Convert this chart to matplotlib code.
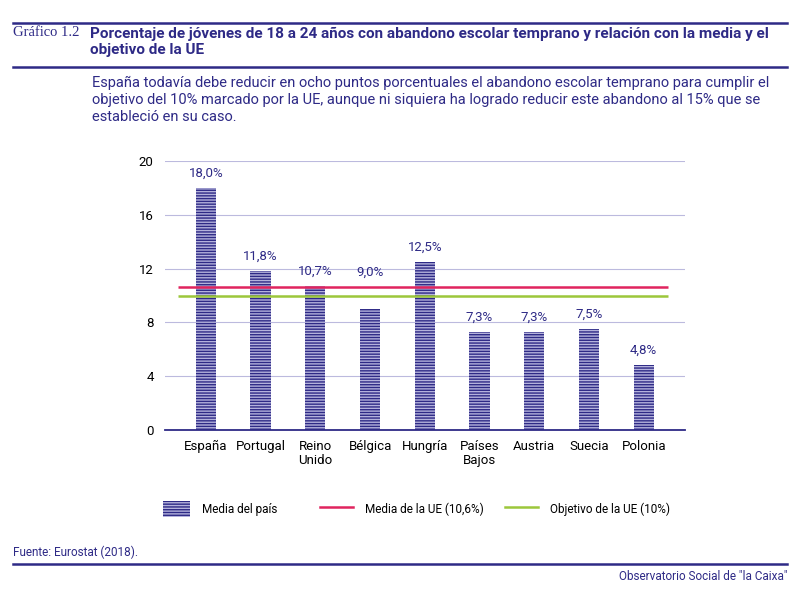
import matplotlib.pyplot as plt
from matplotlib.patches import Patch
from matplotlib.lines import Line2D

paises = ["España", "Portugal", "Reino\nUnido", "Bélgica", "Hungría",
          "Países\nBajos", "Austria", "Suecia", "Polonia"]
abandono = [18.0, 11.8, 10.7, 9.0, 12.5, 7.3, 7.3, 7.5, 4.8]
media_ue = 10.6
objetivo_ue = 10.0
yticks = [0, 4, 8, 12, 16, 20]

navy = "#2e2a86"
lavanda = "#b4b2dc"
rojo = "#e0245e"
verde = "#9cc73b"

plt.rcParams["font.family"] = ["Roboto", "DejaVu Sans"]
plt.rcParams["hatch.linewidth"] = 1.0

fig = plt.figure(figsize=(8, 5.91), dpi=100)
ax = fig.add_axes([0.206, 0.2724, 0.65, 0.4552])

x = list(range(len(paises)))
ax.bar(x, abandono, width=0.37, facecolor=lavanda, edgecolor=navy,
       linewidth=0, hatch="------", zorder=3)
for xi, v in zip(x, abandono):
    # si la etiqueta chocaría con las líneas de la UE, se sube por encima
    base = media_ue if objetivo_ue - 1.5 < v < media_ue else v
    ax.annotate(f"{v:.1f}%".replace(".", ","), (xi, base), xytext=(0, 6),
                textcoords="offset points", ha="center", va="bottom",
                color=navy, fontsize=9.5)

ax.hlines(media_ue, -0.5, 8.45, color=rojo, lw=1.8, zorder=4)
ax.hlines(objetivo_ue, -0.5, 8.45, color=verde, lw=1.8, zorder=4)

ax.set_xlim(-0.75, 8.75)
ax.set_ylim(0, 20)
ax.set_yticks(yticks)
ax.set_xticks(x)
ax.set_xticklabels(paises, fontsize=9.5, linespacing=1.1)
ax.tick_params(axis="y", length=0, labelsize=9.5, pad=8)
ax.tick_params(axis="x", length=0, pad=7)
ax.grid(axis="y", color="#bcbade", lw=0.8, zorder=0)
for s in ["top", "right", "left"]:
    ax.spines[s].set_visible(False)
ax.spines["bottom"].set_color(navy)
ax.spines["bottom"].set_linewidth(1.3)
ax.spines["bottom"].set_zorder(5)

# leyenda: tres entradas colocadas por separado
entradas = [
    (Patch(facecolor=lavanda, edgecolor=navy, linewidth=0, hatch="------"),
     "Media del país", 163, 2.3),
    (Line2D([], [], color=rojo, lw=1.8), "Media de la UE (10,6%)", 320, 2.8),
    (Line2D([], [], color=verde, lw=1.8), "Objetivo de la UE (10%)", 505, 2.8),
]
for h, lab, px, hl in entradas:
    fig.legend([h], [lab], loc="center left",
               bbox_to_anchor=(px / 800, 1 - 509 / 591), frameon=False,
               fontsize=8.5, handlelength=hl, handleheight=1.6,
               handletextpad=1.0, borderpad=0, borderaxespad=0)

# cabecera y pie
for py in [23, 67, 564]:
    fig.add_artist(Line2D([0.016, 0.984], [1 - py / 591] * 2, color=navy, lw=1.8))

fig.text(0.016, 1 - 33 / 591, "Gráfico 1.2", family="Liberation Serif",
         fontsize=10.5, color=navy, va="center")
fig.text(0.1125, 1 - 42 / 591,
         "Porcentaje de jóvenes de 18 a 24 años con abandono escolar temprano y relación con la media y el\nobjetivo de la UE",
         fontsize=11, fontweight="bold", color=navy, va="center",
         linespacing=1.2)
fig.text(0.115, 1 - 100 / 591,
         "España todavía debe reducir en ocho puntos porcentuales el abandono escolar temprano para cumplir el\n"
         "objetivo del 10% marcado por la UE, aunque ni siquiera ha logrado reducir este abandono al 15% que se\n"
         "estableció en su caso.",
         fontsize=10.5, color=navy, va="center", linespacing=1.25)
fig.text(0.016, 1 - 552 / 591, "Fuente: Eurostat (2018).", fontsize=8.5,
         color=navy, va="center")
fig.text(0.984, 1 - 577 / 591, "Observatorio Social de \"la Caixa\"",
         fontsize=8.5, color=navy, va="center", ha="right")

fig.savefig("out.png", dpi=100)
